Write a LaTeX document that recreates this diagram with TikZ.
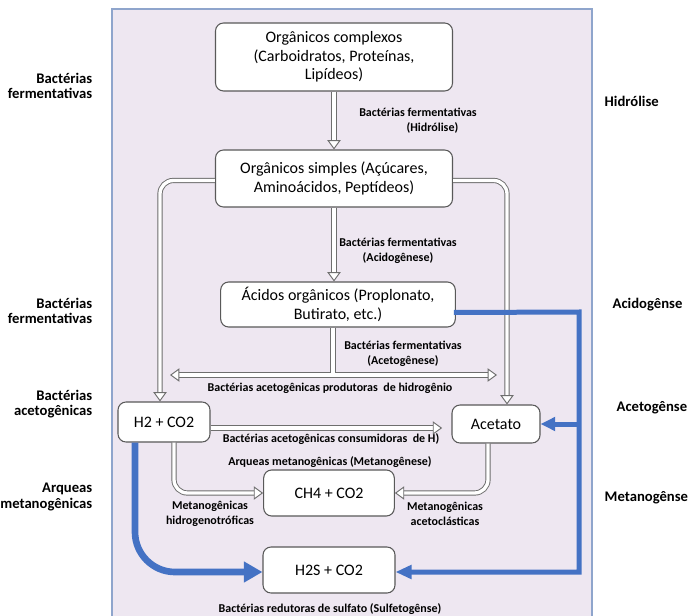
\documentclass[tikz,border=0pt]{standalone}
\usepackage{fontspec}
\setmainfont{Carlito}
\usetikzlibrary{arrows.meta,positioning,calc}
\definecolor{PanelLilac}{HTML}{EEE7F1}
\definecolor{PanelBorder}{HTML}{8FA5CC}
\definecolor{FlowBlue}{HTML}{4472C4}
\definecolor{BoxGray}{HTML}{595959}
\definecolor{PipeGray}{HTML}{6E6E6E}

\begin{document}
\begin{tikzpicture}[
    x=0.75pt, y=-0.75pt,
    stagebox/.style={draw=BoxGray, rounded corners=6pt, fill=white, line width=0.8pt, align=center, inner sep=2pt, font=\fontsize{12}{14}\selectfont},
    pipe/.style={draw=PipeGray, line width=0.7pt, double=white, double distance=2.5pt, rounded corners=10pt},
    pipearrow/.style={pipe, -{Triangle[open, fill=white, length=7pt, width=10pt]}},
    flow/.style={draw=FlowBlue, line width=#1, -{Triangle[length=12pt, width=10pt]}},
    steplabel/.style={font=\fontsize{9}{11}\selectfont\bfseries, align=center, text=black},
    sidelabel/.style={font=\fontsize{11}{11.5}\selectfont\bfseries, text=black}
]

  % -------------------------------------------------------------
  % PAINEL DE FUNDO
  % -------------------------------------------------------------
  \useasboundingbox (0,0) rectangle (691,616);
  \fill[PanelLilac] (112,9) rectangle (592,616);
  \draw[PanelBorder, line width=0.8pt] (112,616) -- (112,9) -- (592,9) -- (592,616);

  % -------------------------------------------------------------
  % ETAPAS (CAIXAS)
  % -------------------------------------------------------------
  \node[stagebox, minimum width=177.75pt, minimum height=51pt] (oc) at (334,57) {
    Orgânicos complexos\\(Carboidratos, Proteínas,\\Lipídeos)
  };
  \node[stagebox, minimum width=177.75pt, minimum height=42.75pt] (os) at (334,178.5) {
    Orgânicos simples (Açúcares,\\Aminoácidos, Peptídeos)
  };
  \node[stagebox, minimum width=176pt, minimum height=33.75pt] (ao) at (338,304.5) {
    Ácidos orgânicos (Proplonato,\\Butirato, etc.)
  };
  \node[stagebox, minimum width=69pt, minimum height=30pt] (h2) at (164,422) {H2 + CO2};
  \node[stagebox, minimum width=66pt, minimum height=28.5pt] (ac) at (496,424) {Acetato};
  \node[stagebox, minimum width=98pt, minimum height=34.5pt] (ch4) at (329,493) {CH4 + CO2};
  \node[stagebox, minimum width=99pt, minimum height=34.5pt] (h2s) at (329,570) {H2S + CO2};

  % -------------------------------------------------------------
  % SETAS DUPLAS (CINZA)
  % -------------------------------------------------------------
  \draw[pipearrow] (oc.south) -- (os.north);
  \draw[pipearrow] (os.south) -- (os.south |- ao.north);
  \draw[pipearrow] ($(os.west)+(0,2)$) -| ($(h2.north)+(-4,0)$);
  \draw[pipearrow] ($(os.east)+(0,2)$) -| ($(ac.north)+(11,0)$);

  % Bifurcação dos ácidos orgânicos
  \coordinate (aoout) at ($(ao.south)+(-5,0)$);
  \coordinate (tl) at (170,375);
  \coordinate (tr) at (497,375);
  \coordinate (tj) at (aoout |- tl);
  \draw[pipe] (aoout) -- (tj);
  \draw[pipe, {Triangle[open, fill=white, length=7pt, width=10pt]}-{Triangle[open, fill=white, length=7pt, width=10pt]}] (tl) -- (tr);
  \fill[white] ($(tj)+(-1.6,-3.4)$) rectangle ($(tj)+(1.6,0)$);

  \coordinate (h2out) at ($(h2.east)+(0,6)$);
  \draw[pipearrow, shorten >=7pt] (h2out) -- (h2out -| ac.west);

  \coordinate (h2down) at ($(h2.south)+(10,0)$);
  \coordinate (acdown) at ($(ac.south)+(-8,0)$);
  \draw[pipearrow] (h2down) |- (ch4.west);
  \draw[pipearrow] (acdown) |- (ch4.east);

  % -------------------------------------------------------------
  % SETAS AZUIS (SULFETOGÊNESE)
  % -------------------------------------------------------------
  \coordinate (aoblue) at ($(ao.east)+(-2,8)$);
  \coordinate (bus_top) at (579,312);
  \coordinate (bus_bot) at (579,572);
  \draw[flow=3.75pt] (aoblue) -- (bus_top) -- (bus_bot) -- (bus_bot -| h2s.east);
  \draw[flow=3.75pt, -{Triangle[length=11pt, width=10pt]}] (bus_top |- ac.east) -- (ac.east);

  \coordinate (h2blue) at ($(h2.south)+(-29,0)$);
  \draw[flow=5pt, -{Triangle[length=14pt, width=15pt]}, rounded corners=30pt] (h2blue) |- ($(h2s.west)+(0,2)$);

  % -------------------------------------------------------------
  % RÓTULOS DAS SETAS
  % -------------------------------------------------------------
  \node[steplabel] (lb_hidro) at (418,120.5) {Bactérias fermentativas\\\hspace*{2.4em}(Hidrólise)};
  \node[steplabel] (lb_acido) at (398,251) {Bactérias fermentativas\\(Acidogênese)};
  \node[steplabel] (lb_aceto) at (403,354) {Bactérias fermentativas\\(Acetogênese)};
  \node[steplabel] (lb_prod) at (330,388) {Bactérias acetogênicas produtoras\ \ de hidrogênio};
  \node[steplabel] (lb_cons) at (331,439) {Bactérias acetogênicas consumidoras\ \ de H)};
  \node[steplabel] (lb_arq) at (330,462) {Arqueas metanogênicas (Metanogênese)};
  \node[steplabel] (lb_hidrog) at (210,514) {Metanogênicas\\hidrogenotróficas};
  \node[steplabel] (lb_acetoc) at (445,514) {Metanogênicas\\acetoclásticas};
  \node[steplabel] (lb_sulf) at (330,609) {Bactérias redutoras de sulfato (Sulfetogênse)};

  % -------------------------------------------------------------
  % RÓTULOS LATERAIS
  % -------------------------------------------------------------
  \node[sidelabel, anchor=east, align=right] (sl_ferm1) at (97,86) {Bactérias\\fermentativas};
  \node[sidelabel, anchor=east, align=right] (sl_ferm2) at (97,311) {Bactérias\\fermentativas};
  \node[sidelabel, anchor=east, align=right] (sl_aceto) at (97,404) {Bactérias\\acetogênicas};
  \node[sidelabel, anchor=east, align=right] (sl_arq) at (97,497) {Arqueas\\metanogênicas};

  \node[sidelabel, anchor=west] (sr_hidro) at (600,101) {Hidrólise};
  \node[sidelabel, anchor=west] (sr_acido) at (608,305) {Acidogênse};
  \node[sidelabel, anchor=west] (sr_aceto) at (612,408) {Acetogênse};
  \node[sidelabel, anchor=west] (sr_metano) at (600,498) {Metanogênse};

\end{tikzpicture}
\end{document}
